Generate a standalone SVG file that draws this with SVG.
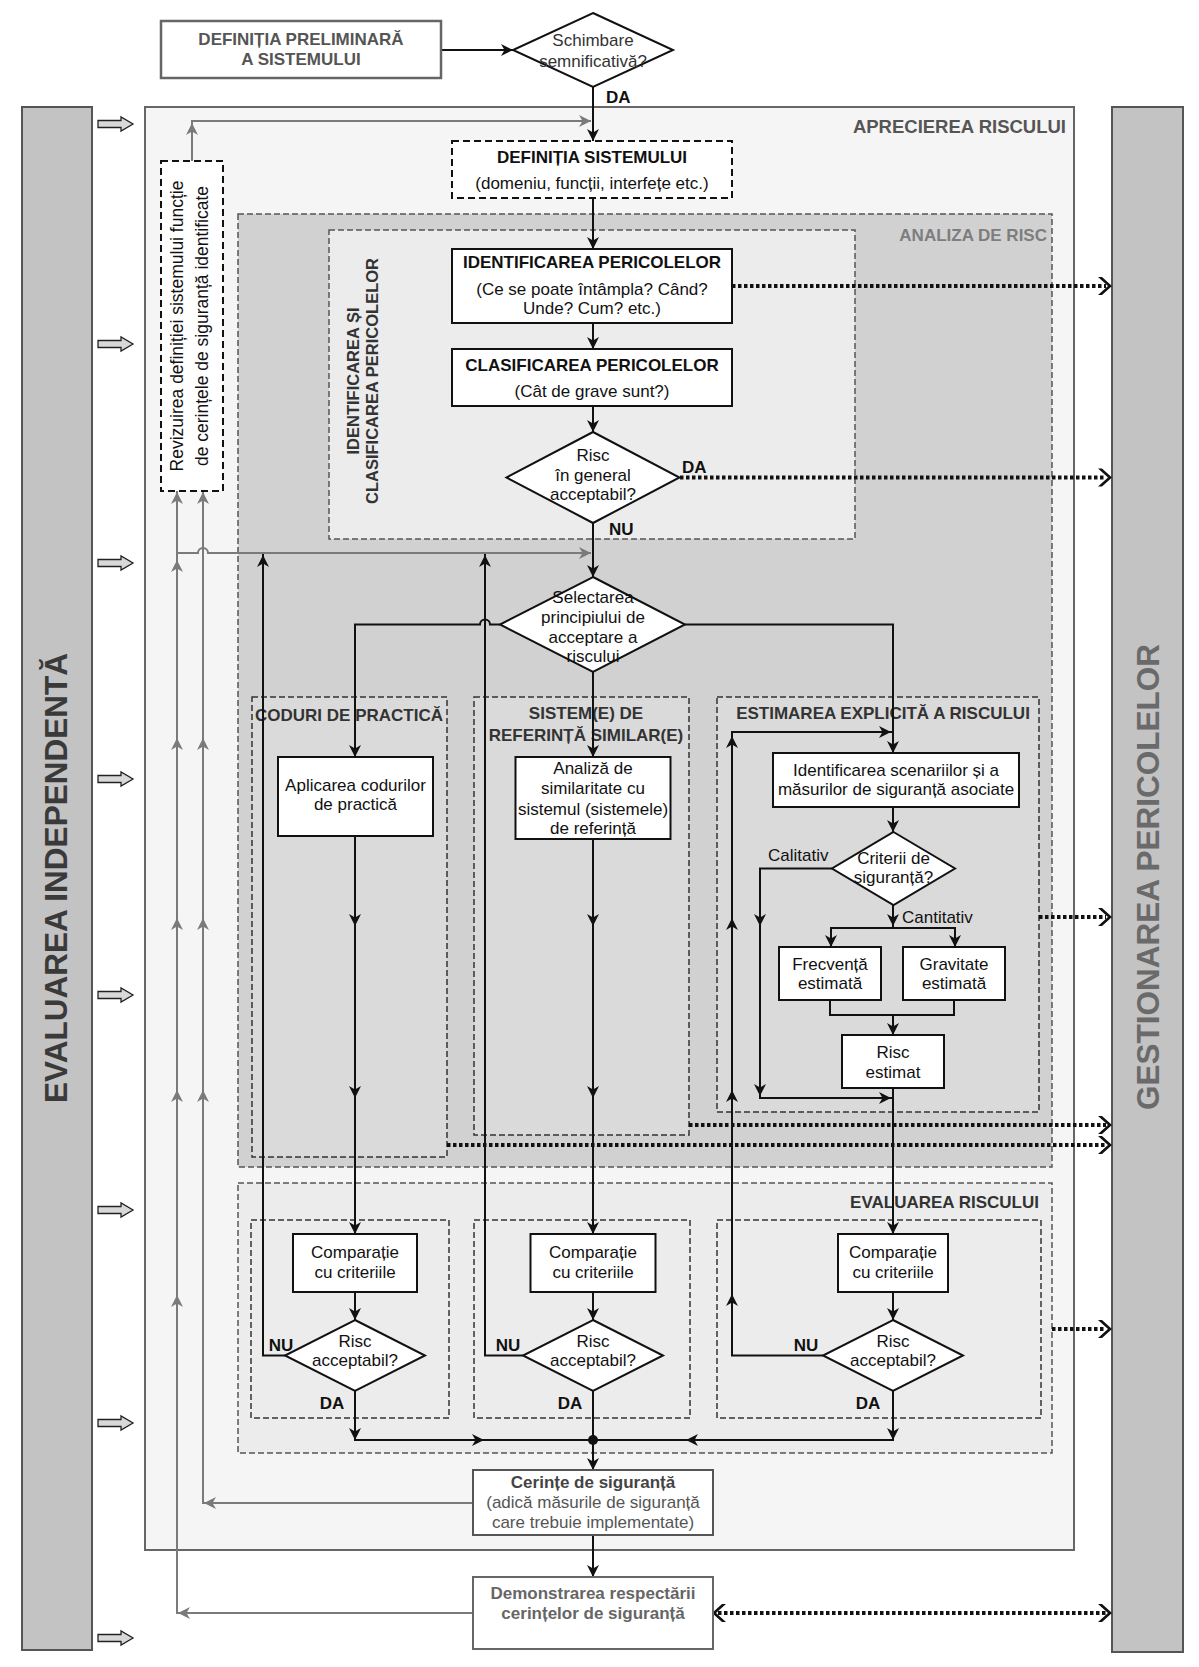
<svg xmlns="http://www.w3.org/2000/svg" xmlns:xlink="http://www.w3.org/1999/xlink" width="1199" height="1667" viewBox="0 0 1199 1667">
<style>
text{font-family:"Liberation Sans",Arial,Helvetica,sans-serif;font-size:17px;fill:#111;text-anchor:middle}
.b{font-weight:bold}
.st{text-anchor:start}
.en{text-anchor:end}
.box{fill:#fff;stroke:#111;stroke-width:2}
.dbox{fill:#fff;stroke:#111;stroke-width:2;stroke-dasharray:7 4}
.ln{fill:none;stroke:#111;stroke-width:2}
.gln{fill:none;stroke:#7a7a7a;stroke-width:2}
.dot{fill:none;stroke:#111;stroke-width:4;stroke-dasharray:3.5 2.5}
.grp{stroke:#555;stroke-width:1.5;stroke-dasharray:6 3}
.sub{stroke:#333;stroke-width:1.5;stroke-dasharray:6 3}
.bar{fill:#c3c3c3;stroke:#555;stroke-width:2}
.ha{fill:#d8d8d8;stroke:#222;stroke-width:1.3}
.lbl{fill:#333}
</style>
<defs>
<path id="ah" d="M0,0 L-12,-6 L-8.5,0 L-12,6 Z" fill="#111"/>
<path id="gah" d="M0,0 L-12,-6 L-8.5,0 L-12,6 Z" fill="#7a7a7a"/>
<path id="ch" d="M1,0 L-9,-9 L-13,-9 L-3,0 L-13,9 L-9,9 Z" fill="#111"/>
<path id="hollow" d="M98,-3.5 H121 V-7 L133,0 L121,7 V3.5 H98 Z"/>
</defs>
<rect width="1199" height="1667" fill="#fff"/>

<!-- side bars -->
<g id="evaluarea-independenta">
<rect class="bar" x="22" y="107" width="70" height="1543"/>
<text class="b" transform="translate(67,878) rotate(-90)" style="font-size:31.5px;fill:#3a3a3a">EVALUAREA INDEPENDENTĂ</text>
</g>
<g id="gestionarea-pericolelor">
<rect class="bar" x="1112" y="107" width="71" height="1545"/>
<text class="b" transform="translate(1159,877) rotate(-90)" style="font-size:31.5px;fill:#6a6a6a">GESTIONAREA PERICOLELOR</text>
</g>
<g id="side-arrows">
<use href="#hollow" class="ha" transform="translate(0,124)"/>
<use href="#hollow" class="ha" transform="translate(0,344)"/>
<use href="#hollow" class="ha" transform="translate(0,563)"/>
<use href="#hollow" class="ha" transform="translate(0,779)"/>
<use href="#hollow" class="ha" transform="translate(0,995)"/>
<use href="#hollow" class="ha" transform="translate(0,1210)"/>
<use href="#hollow" class="ha" transform="translate(0,1423)"/>
<use href="#hollow" class="ha" transform="translate(0,1638)"/>
</g>

<!-- containers -->
<g id="aprecierea-riscului">
<rect x="145" y="107" width="929" height="1443" fill="#f5f5f5" stroke="#666" stroke-width="2"/>
<text class="b en" x="1066" y="133" style="font-size:18.5px;fill:#555">APRECIEREA RISCULUI</text>
</g>
<g id="analiza-de-risc">
<rect class="grp" x="238" y="214" width="814" height="953" fill="#d1d1d1"/>
<text class="b en" x="1047" y="241" style="fill:#7d7d7d">ANALIZA DE RISC</text>
</g>
<g id="identificarea-clasificarea">
<rect class="grp" x="329" y="230" width="526" height="309" fill="#ececec"/>
<text class="b lbl" transform="translate(359,381) rotate(-90)" style="font-size:16.5px">IDENTIFICAREA ȘI</text>
<text class="b lbl" transform="translate(378,381) rotate(-90)" style="font-size:16.5px">CLASIFICAREA PERICOLELOR</text>
</g>
<g id="coduri-de-practica">
<rect class="sub" x="252" y="697" width="195" height="460" fill="#dadada"/>
<text class="b lbl" x="349" y="721">CODURI DE PRACTICĂ</text>
</g>
<g id="sisteme-de-referinta">
<rect class="sub" x="474" y="697" width="215" height="438" fill="#dadada"/>
<text class="b lbl" x="586" y="719">SISTEM(E) DE</text>
<text class="b lbl" x="586" y="741">REFERINȚĂ SIMILAR(E)</text>
</g>
<g id="estimarea-explicita">
<rect class="sub" x="717" y="697" width="322" height="415" fill="#dadada"/>
<text class="b lbl" x="883" y="719">ESTIMAREA EXPLICITĂ A RISCULUI</text>
</g>
<g id="evaluarea-riscului">
<rect class="grp" x="238" y="1183" width="814" height="270" fill="#ececec"/>
<text class="b lbl en" x="1039" y="1208">EVALUAREA RISCULUI</text>
<rect class="sub" x="251" y="1220" width="198" height="198" fill="none"/>
<rect class="sub" x="474" y="1220" width="216" height="198" fill="none"/>
<rect class="sub" x="717" y="1220" width="324" height="198" fill="none"/>
</g>

<!-- connectors -->
<g id="connectors">
<path class="ln" d="M441,50 H513"/><use href="#ah" transform="translate(513,50)"/>
<path class="ln" d="M593,87 V141"/><use href="#ah" transform="translate(593,141) rotate(90)"/>
<path class="ln" d="M593,198 V249"/><use href="#ah" transform="translate(593,249) rotate(90)"/>
<path class="ln" d="M593,323 V349"/><use href="#ah" transform="translate(593,349) rotate(90)"/>
<path class="ln" d="M593,406 V432"/><use href="#ah" transform="translate(593,432) rotate(90)"/>
<path class="ln" d="M593,523 V577"/><use href="#ah" transform="translate(593,577) rotate(90)"/>
<path class="ln" d="M500,624.5 H490 a5,5 0 0 0 -10,0 H355 V757"/><use href="#ah" transform="translate(355,757) rotate(90)"/>
<path class="ln" d="M593,672 V757"/><use href="#ah" transform="translate(593,757) rotate(90)"/>
<path class="ln" d="M685,624.5 H893 V753"/><use href="#ah" transform="translate(893,753) rotate(90)"/>
<path class="ln" d="M893,807 V832"/><use href="#ah" transform="translate(893,832) rotate(90)"/>
<path class="ln" d="M832,868.5 H760 V1098 H893"/>
<use href="#ah" transform="translate(760,926) rotate(90)"/><use href="#ah" transform="translate(760,1096) rotate(90)"/><use href="#ah" transform="translate(891,1098)"/>
<path class="ln" d="M893,905 V928"/><use href="#ah" transform="translate(893,926) rotate(90)"/>
<path class="ln" d="M831,947 V928 H955 V947"/><use href="#ah" transform="translate(831,947) rotate(90)"/><use href="#ah" transform="translate(955,947) rotate(90)"/>
<path class="ln" d="M830,1000 V1015 H954 V1000 M893,1015 V1035"/><use href="#ah" transform="translate(893,1035) rotate(90)"/>
<path class="ln" d="M893,1088 V1234"/><use href="#ah" transform="translate(893,1234) rotate(90)"/>
<path class="ln" d="M355,836 V1234"/>
<use href="#ah" transform="translate(355,926) rotate(90)"/><use href="#ah" transform="translate(355,1098) rotate(90)"/><use href="#ah" transform="translate(355,1234) rotate(90)"/>
<path class="ln" d="M593,839 V1234"/>
<use href="#ah" transform="translate(593,926) rotate(90)"/><use href="#ah" transform="translate(593,1098) rotate(90)"/><use href="#ah" transform="translate(593,1234) rotate(90)"/>
<path class="ln" d="M355,1292 V1320 M593,1292 V1320 M893,1292 V1320"/>
<use href="#ah" transform="translate(355,1320) rotate(90)"/><use href="#ah" transform="translate(593,1320) rotate(90)"/><use href="#ah" transform="translate(893,1320) rotate(90)"/>
<path class="ln" d="M285,1355.5 H263 V553"/><use href="#ah" transform="translate(263,555) rotate(-90)"/>
<path class="ln" d="M523,1355.5 H485 V553"/><use href="#ah" transform="translate(485,555) rotate(-90)"/>
<path class="ln" d="M823,1355.5 H732 V732 H893"/>
<use href="#ah" transform="translate(732,1294) rotate(-90)"/><use href="#ah" transform="translate(732,1090) rotate(-90)"/><use href="#ah" transform="translate(732,918) rotate(-90)"/><use href="#ah" transform="translate(732,736) rotate(-90)"/><use href="#ah" transform="translate(891,732)"/>
<path class="ln" d="M355,1391 V1440 H893 V1391 M593,1391 V1470"/>
<use href="#ah" transform="translate(355,1440) rotate(90)"/><use href="#ah" transform="translate(893,1440) rotate(90)"/><use href="#ah" transform="translate(484,1440)"/><use href="#ah" transform="translate(686,1440) rotate(180)"/><use href="#ah" transform="translate(593,1470) rotate(90)"/>
<circle cx="593" cy="1440" r="5" fill="#111"/>
<path class="ln" d="M593,1535 V1577"/><use href="#ah" transform="translate(593,1577) rotate(90)"/>

<path class="gln" d="M192,161 V121 H591"/><use href="#gah" transform="translate(192,123) rotate(-90)"/><use href="#gah" transform="translate(591,121)"/>
<path class="gln" d="M473,1503 H203 V491"/>
<use href="#gah" transform="translate(204,1503) rotate(180)"/><use href="#gah" transform="translate(203,492) rotate(-90)"/><use href="#gah" transform="translate(203,738) rotate(-90)"/><use href="#gah" transform="translate(203,918) rotate(-90)"/><use href="#gah" transform="translate(203,1090) rotate(-90)"/>
<path class="gln" d="M473,1613 H177 V491"/>
<use href="#gah" transform="translate(178,1613) rotate(180)"/><use href="#gah" transform="translate(177,492) rotate(-90)"/><use href="#gah" transform="translate(177,560) rotate(-90)"/><use href="#gah" transform="translate(177,738) rotate(-90)"/><use href="#gah" transform="translate(177,918) rotate(-90)"/><use href="#gah" transform="translate(177,1090) rotate(-90)"/><use href="#gah" transform="translate(177,1295) rotate(-90)"/>
<path class="gln" d="M177,553 H198 a5,5 0 0 1 10,0 H591"/><use href="#gah" transform="translate(591,553)"/>

<path class="dot" d="M732,286 H1106"/><use href="#ch" transform="translate(1111,286)"/>
<path class="dot" d="M680,477.5 H1106"/><use href="#ch" transform="translate(1111,477.5)"/>
<path class="dot" d="M1039,917 H1106"/><use href="#ch" transform="translate(1111,917)"/>
<path class="dot" d="M689,1125 H1106"/><use href="#ch" transform="translate(1111,1125)"/>
<path class="dot" d="M447,1145 H1106"/><use href="#ch" transform="translate(1111,1145)"/>
<path class="dot" d="M1052,1329 H1106"/><use href="#ch" transform="translate(1111,1329)"/>
<path class="dot" d="M718,1613 H1106"/><use href="#ch" transform="translate(1111,1613)"/><use href="#ch" transform="translate(713,1613) rotate(180)"/>
</g>

<!-- nodes -->
<g id="definitia-preliminara">
<rect x="161" y="21" width="280" height="57" fill="#fff" stroke="#666" stroke-width="2.5"/>
<text class="b" x="301" y="45" style="fill:#555">DEFINIȚIA PRELIMINARĂ</text>
<text class="b" x="301" y="65" style="fill:#555">A SISTEMULUI</text>
</g>
<g id="schimbare">
<polygon class="box" points="593,13 673,50 593,87 513,50"/>
<text x="593" y="46" style="fill:#333">Schimbare</text>
<text x="593" y="67" style="fill:#333">semnificativă?</text>
<text class="b st" x="606" y="103">DA</text>
</g>
<g id="definitia-sistemului">
<rect class="dbox" x="452" y="141" width="280" height="57"/>
<text class="b" x="592" y="163">DEFINIȚIA SISTEMULUI</text>
<text x="592" y="189">(domeniu, funcții, interfețe etc.)</text>
</g>
<g id="revizuirea">
<rect class="dbox" x="161" y="161" width="62" height="330"/>
<text transform="translate(183,326) rotate(-90)" style="font-size:17.5px">Revizuirea definiției sistemului funcție</text>
<text transform="translate(208,326) rotate(-90)" style="font-size:17.5px">de cerințele de siguranță identificate</text>
</g>
<g id="identificarea-pericolelor">
<rect class="box" x="452" y="249" width="280" height="74"/>
<text class="b" x="592" y="268">IDENTIFICAREA PERICOLELOR</text>
<text x="592" y="295">(Ce se poate întâmpla? Când?</text>
<text x="592" y="314">Unde? Cum? etc.)</text>
</g>
<g id="clasificarea-pericolelor">
<rect class="box" x="452" y="349" width="280" height="57"/>
<text class="b" x="592" y="371">CLASIFICAREA PERICOLELOR</text>
<text x="592" y="397">(Cât de grave sunt?)</text>
</g>
<g id="risc-general-acceptabil">
<polygon class="box" points="593,432 679.5,477.5 593,523 506.5,477.5"/>
<text x="593" y="461">Risc</text>
<text x="593" y="481">în general</text>
<text x="593" y="500">acceptabil?</text>
<text class="b st" x="682" y="473">DA</text>
<text class="b st" x="609" y="535">NU</text>
</g>
<g id="selectarea">
<polygon class="box" points="593,577 685,624.5 593,672 500,624.5"/>
<text x="593" y="603">Selectarea</text>
<text x="593" y="623">principiului de</text>
<text x="593" y="643">acceptare a</text>
<text x="593" y="662">riscului</text>
</g>
<g id="aplicarea-codurilor">
<rect class="box" x="278" y="757" width="155" height="79"/>
<text x="355.5" y="791">Aplicarea codurilor</text>
<text x="355.5" y="810">de practică</text>
</g>
<g id="analiza-similaritate">
<rect class="box" x="515.5" y="757" width="155" height="82"/>
<text x="593" y="774">Analiză de</text>
<text x="593" y="794">similaritate cu</text>
<text x="593" y="815">sistemul (sistemele)</text>
<text x="593" y="834">de referință</text>
</g>
<g id="identificarea-scenariilor">
<rect class="box" x="773" y="753" width="246" height="54"/>
<text x="896" y="776">Identificarea scenariilor și a</text>
<text x="896" y="795">măsurilor de siguranță asociate</text>
</g>
<g id="criterii-de-siguranta">
<polygon class="box" points="893.5,832 955,868.5 893.5,905 832,868.5"/>
<text x="893.5" y="864">Criterii de</text>
<text x="893.5" y="883">siguranță?</text>
<text class="st" x="768" y="861">Calitativ</text>
<text class="st" x="902" y="923">Cantitativ</text>
</g>
<g id="frecventa-estimata">
<rect class="box" x="779" y="947" width="102" height="53"/>
<text x="830" y="970">Frecvență</text>
<text x="830" y="989">estimată</text>
</g>
<g id="gravitate-estimata">
<rect class="box" x="903" y="947" width="102" height="53"/>
<text x="954" y="970">Gravitate</text>
<text x="954" y="989">estimată</text>
</g>
<g id="risc-estimat">
<rect class="box" x="842" y="1035" width="102" height="53"/>
<text x="893" y="1058">Risc</text>
<text x="893" y="1078">estimat</text>
</g>
<g id="comparatie-1">
<rect class="box" x="293" y="1234" width="124" height="58"/>
<text x="355" y="1258">Comparație</text>
<text x="355" y="1278">cu criteriile</text>
</g>
<g id="comparatie-2">
<rect class="box" x="530.5" y="1234" width="125" height="58"/>
<text x="593" y="1258">Comparație</text>
<text x="593" y="1278">cu criteriile</text>
</g>
<g id="comparatie-3">
<rect class="box" x="838" y="1234" width="110" height="58"/>
<text x="893" y="1258">Comparație</text>
<text x="893" y="1278">cu criteriile</text>
</g>
<g id="risc-acceptabil-1">
<polygon class="box" points="355,1320 425,1355.5 355,1391 285,1355.5"/>
<text x="355" y="1347">Risc</text>
<text x="355" y="1366">acceptabil?</text>
<text class="b" x="281" y="1351">NU</text>
<text class="b" x="332" y="1409">DA</text>
</g>
<g id="risc-acceptabil-2">
<polygon class="box" points="593,1320 663,1355.5 593,1391 523,1355.5"/>
<text x="593" y="1347">Risc</text>
<text x="593" y="1366">acceptabil?</text>
<text class="b" x="508" y="1351">NU</text>
<text class="b" x="570" y="1409">DA</text>
</g>
<g id="risc-acceptabil-3">
<polygon class="box" points="893,1320 963,1355.5 893,1391 823,1355.5"/>
<text x="893" y="1347">Risc</text>
<text x="893" y="1366">acceptabil?</text>
<text class="b" x="806" y="1351">NU</text>
<text class="b" x="868" y="1409">DA</text>
</g>
<g id="cerinte-de-siguranta">
<rect x="473" y="1470" width="240" height="65" fill="#fff" stroke="#555" stroke-width="2"/>
<text class="b" x="593" y="1488" style="fill:#444">Cerințe de siguranță</text>
<text x="593" y="1508" style="fill:#555">(adică măsurile de siguranță</text>
<text x="593" y="1528" style="fill:#555">care trebuie implementate)</text>
</g>
<g id="demonstrarea">
<rect x="473" y="1577" width="240" height="72" fill="#fff" stroke="#666" stroke-width="2"/>
<text class="b" x="593" y="1599" style="fill:#666">Demonstrarea respectării</text>
<text class="b" x="593" y="1619" style="fill:#666">cerințelor de siguranță</text>
</g>
</svg>
